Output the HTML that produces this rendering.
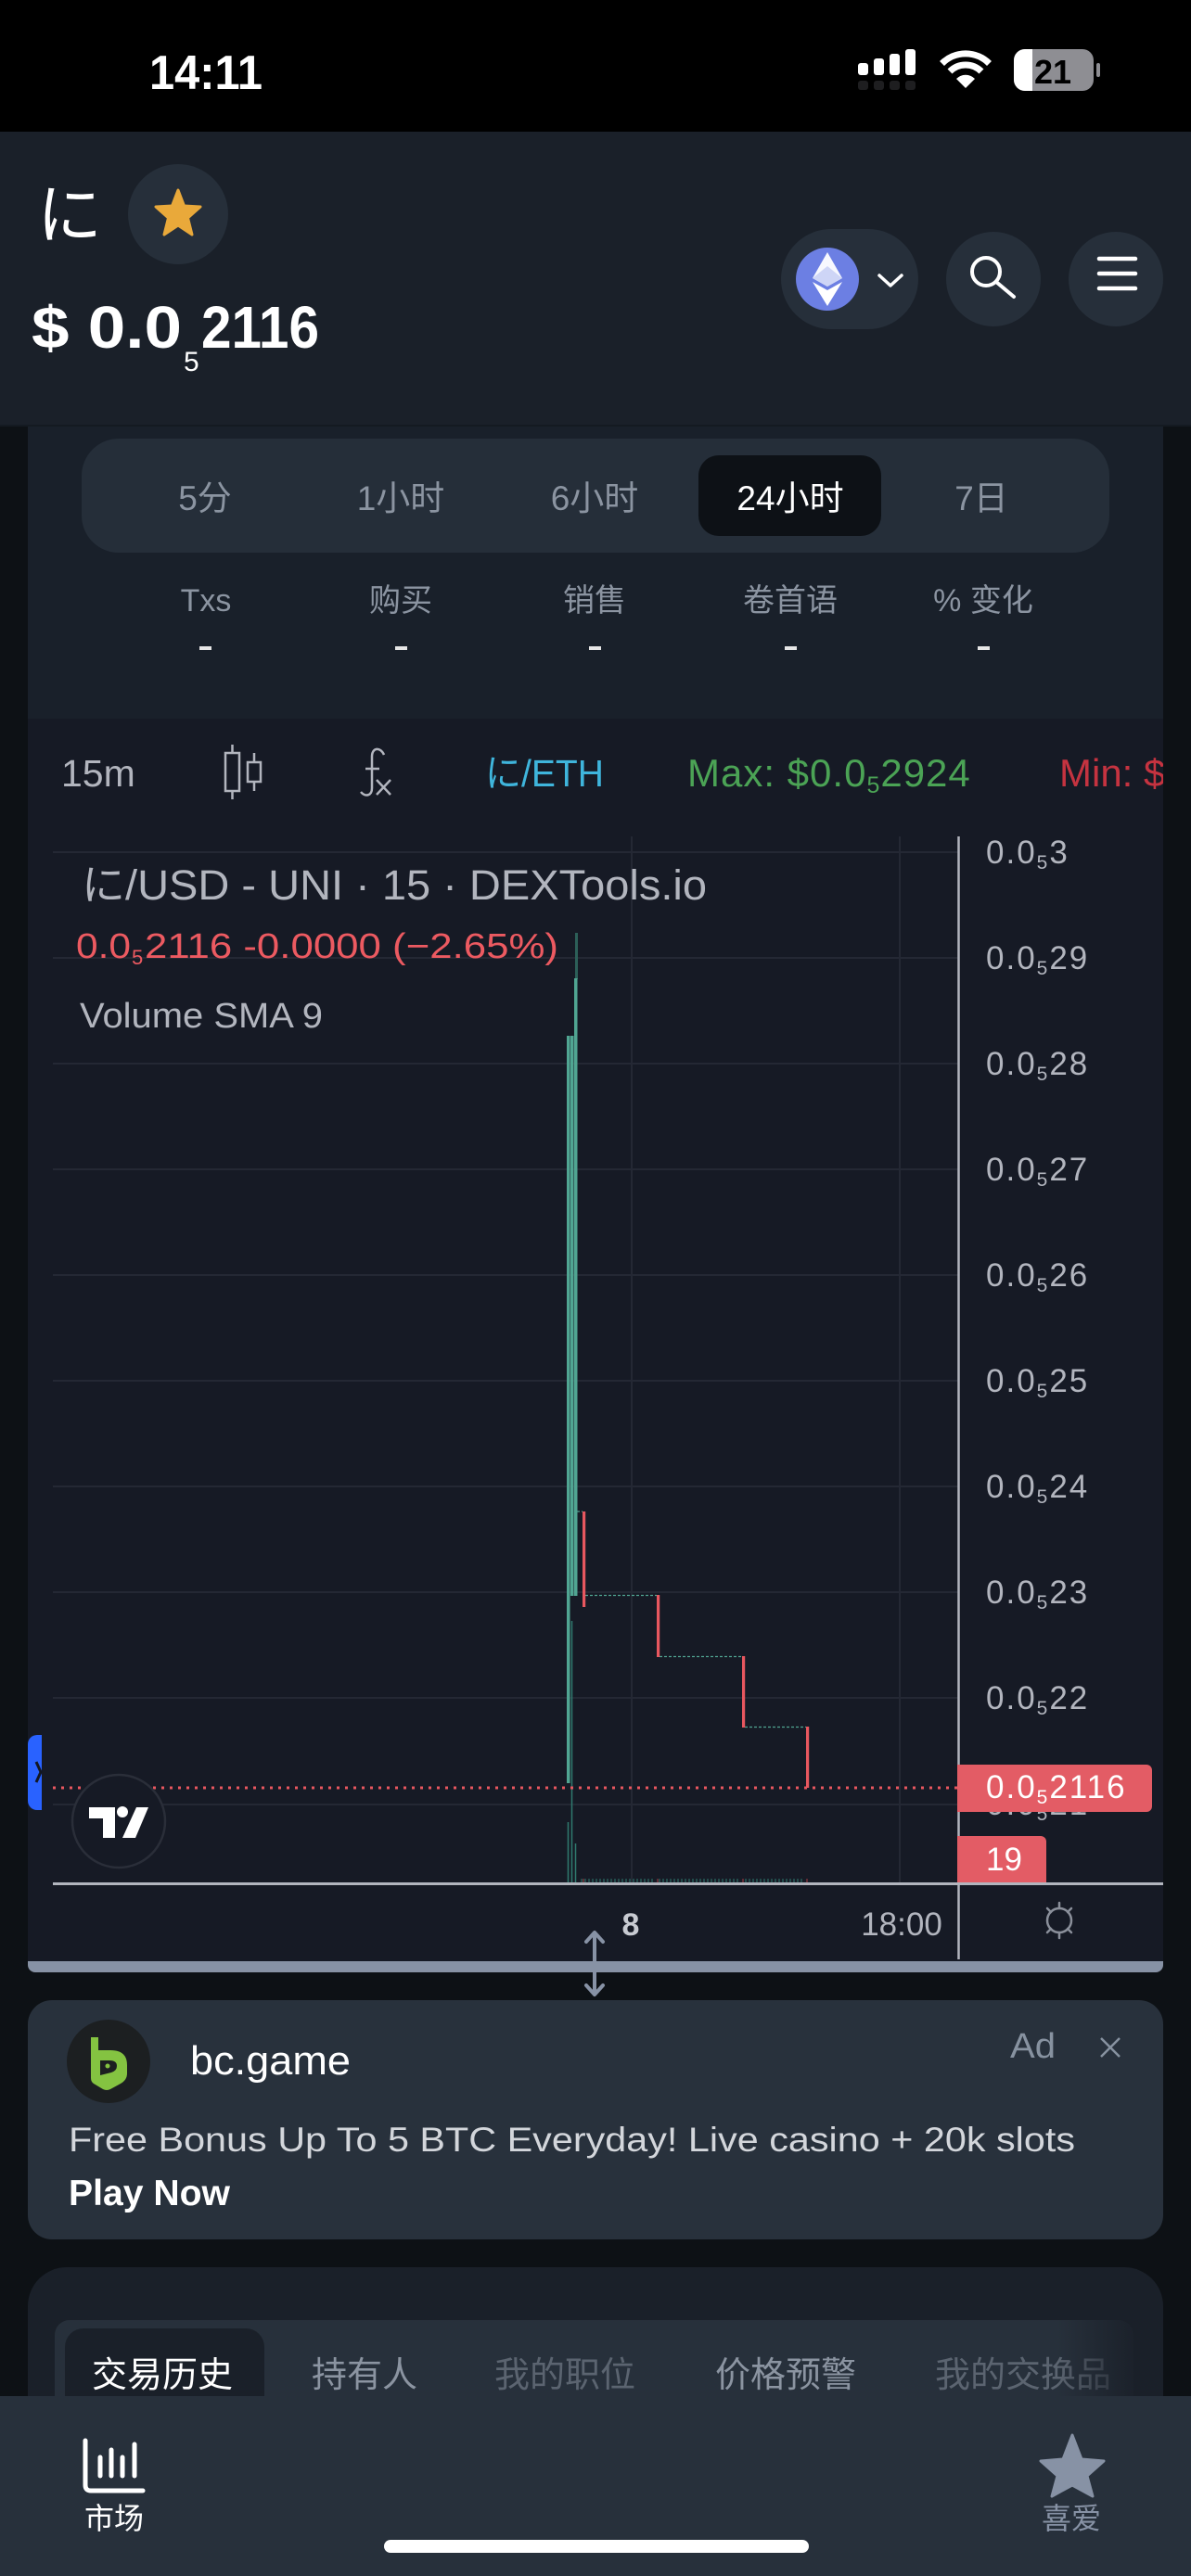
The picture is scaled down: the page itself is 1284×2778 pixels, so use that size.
<!DOCTYPE html>
<html><head><meta charset="utf-8">
<style>
html,body{margin:0;padding:0;background:#0d1115;width:1284px;height:2778px;overflow:hidden}
svg{display:block}
text{font-family:"Liberation Sans","Noto Sans CJK SC",sans-serif}
.jp{font-family:"Liberation Sans","Noto Sans CJK JP",sans-serif}
</style></head>
<body>
<svg width="1284" height="2778" viewBox="0 0 1284 2778" xmlns="http://www.w3.org/2000/svg">
<defs>
<clipPath id="panelclip"><rect x="30" y="0" width="1224" height="2778"/></clipPath>
<linearGradient id="fade" x1="0" x2="1" y1="0" y2="0">
<stop offset="0" stop-color="#1a2029" stop-opacity="0"/>
<stop offset="1" stop-color="#1a2029" stop-opacity="0.9"/>
</linearGradient>
</defs>

<!-- backgrounds -->
<rect x="0" y="0" width="1284" height="2778" fill="#0d1115"/>
<rect x="0" y="0" width="1284" height="142" fill="#000"/>
<rect x="0" y="142" width="1284" height="318" fill="#1a2029"/>
<rect x="30" y="460" width="1224" height="315" fill="#19202a"/>
<rect x="0" y="458" width="1284" height="2" fill="#141a21"/>

<!-- status bar -->
<text x="161" y="96" font-size="52" font-weight="bold" fill="#fff" textLength="122" lengthAdjust="spacingAndGlyphs">14:11</text>
<g fill="#fff">
<rect x="925" y="68" width="11" height="13" rx="3"/>
<rect x="942" y="63" width="11" height="18" rx="3"/>
<rect x="959" y="58" width="11" height="23" rx="3"/>
<rect x="976" y="53" width="11" height="28" rx="3"/>
</g>
<g fill="#1e1e20">
<rect x="925" y="87" width="11" height="10" rx="3"/>
<rect x="942" y="87" width="11" height="10" rx="3"/>
<rect x="959" y="87" width="11" height="10" rx="3"/>
<rect x="976" y="87" width="11" height="10" rx="3"/>
</g>
<g fill="none" stroke="#fff" stroke-width="7">
<path d="M1015.5,68.5 A36,36 0 0 1 1066.5,68.5"/>
<path d="M1024,77 A24,24 0 0 1 1058,77"/>
</g>
<path d="M1041,95 L1031,85 A14,14 0 0 1 1051,85 Z" fill="#fff"/>
<rect x="1093" y="53" width="86" height="45" rx="12" fill="#8e8e93"/>
<path d="M1105,53 h8 v45 h-8 a12,12 0 0 1 -12,-12 v-21 a12,12 0 0 1 12,-12z" fill="#fff"/>
<rect x="1182" y="68" width="4" height="15" rx="2" fill="#8e8e93"/>
<text x="1135" y="90" font-size="36" font-weight="bold" fill="#000" text-anchor="middle">21</text>

<!-- header -->
<text class="jp" x="40" y="256" font-size="70" fill="#fff">に</text>
<circle cx="192" cy="231" r="54" fill="#262f3a"/>
<path d="M192,205 L198.5,222 L216,223 L202.5,235 L207,253 L192,243 L177,253 L181.5,235 L168,223 L185.5,222 Z" fill="#e9a93a" stroke="#e9a93a" stroke-width="3" stroke-linejoin="round"/>
<text x="34" y="375" font-size="64" font-weight="bold" fill="#fff" textLength="162" lengthAdjust="spacingAndGlyphs">$ 0.0</text>
<text x="198" y="400" font-size="30" fill="#fff">5</text>
<text x="217" y="375" font-size="64" font-weight="bold" fill="#fff" textLength="127" lengthAdjust="spacingAndGlyphs">2116</text>

<rect x="842" y="247" width="148" height="108" rx="54" fill="#262f3a"/>
<circle cx="892" cy="301" r="34" fill="#6c7fe3"/>
<path d="M892,272 L876,300 L892,309 L908,300 Z" fill="#fff" opacity="0.95"/>
<path d="M892,287 L876,300 L892,309 L908,300 Z" fill="#c9d0f5" opacity="0.9"/>
<path d="M876,304 L892,330 L908,304 L892,313 Z" fill="#fff"/>
<polyline points="948,297 960,308 972,297" fill="none" stroke="#fff" stroke-width="3.5" stroke-linecap="round" stroke-linejoin="round"/>
<circle cx="1071" cy="301" r="51" fill="#262f3a"/>
<circle cx="1063" cy="293" r="15" fill="none" stroke="#fff" stroke-width="4"/>
<line x1="1074" y1="304" x2="1093" y2="320" stroke="#fff" stroke-width="4" stroke-linecap="round"/>
<circle cx="1203" cy="301" r="51" fill="#262f3a"/>
<g stroke="#fff" stroke-width="4.5" stroke-linecap="round">
<line x1="1185" y1="279" x2="1224" y2="279"/>
<line x1="1185" y1="295" x2="1224" y2="295"/>
<line x1="1185" y1="311" x2="1224" y2="311"/>
</g>

<!-- time tabs -->
<rect x="88" y="473" width="1108" height="123" rx="40" fill="#252e39"/>
<rect x="753" y="491" width="197" height="87" rx="22" fill="#0d1116"/>
<g font-size="37" text-anchor="middle" fill="#8b94a1">
<text x="221" y="550">5分</text>
<text x="432" y="550">1小时</text>
<text x="641" y="550">6小时</text>
<text x="852" y="550" fill="#fff">24小时</text>
<text x="1058" y="550">7日</text>
</g>
<g font-size="34" text-anchor="middle" fill="#8b94a1">
<text x="222" y="659">Txs</text>
<text x="432" y="659">购买</text>
<text x="641" y="659">销售</text>
<text x="852" y="659">卷首语</text>
<text x="1060" y="659">% 变化</text>
</g>
<g fill="#e6e6e6">
<rect x="215" y="697" width="13" height="4"/>
<rect x="426" y="697" width="13" height="4"/>
<rect x="635" y="697" width="13" height="4"/>
<rect x="846" y="697" width="13" height="4"/>
<rect x="1054" y="697" width="13" height="4"/>
</g>

<!-- chart panel -->
<rect x="30" y="775" width="1224" height="1342" fill="#161a25"/>
<g clip-path="url(#panelclip)">
<text x="66" y="848" font-size="41" fill="#b2b5be">15m</text>
<g fill="none" stroke="#b2b5be" stroke-width="2.5">
<rect x="243" y="812" width="15" height="41"/>
<line x1="250.5" y1="803" x2="250.5" y2="812"/>
<line x1="250.5" y1="853" x2="250.5" y2="862"/>
<rect x="267" y="822" width="14" height="21"/>
<line x1="274" y1="812" x2="274" y2="822"/>
<line x1="274" y1="843" x2="274" y2="853"/>
<path d="M414,814 C410,805 401,806 401,816 L401,850 C401,858 394,860 389,854"/>
<line x1="394" y1="829" x2="409" y2="829"/>
<line x1="406" y1="841" x2="421" y2="857"/>
<line x1="421" y1="841" x2="406" y2="857"/>
</g>
<text class="jp" x="523" y="848" font-size="41" fill="#3fb5dc" textLength="128" lengthAdjust="spacingAndGlyphs">に/ETH</text>
<text x="741" y="848" font-size="42" fill="#4ba355" letter-spacing="1">Max: $0.0<tspan font-size="25" dy="7">5</tspan><tspan dy="-7">2924</tspan></text>
<text x="1142" y="848" font-size="42" fill="#c53340">Min: $0.0</text>
</g>

<!-- grid -->
<g stroke="#242834" stroke-width="2">
<line x1="57" y1="919" x2="1033" y2="919"/>
<line x1="57" y1="1033" x2="1033" y2="1033"/>
<line x1="57" y1="1147" x2="1033" y2="1147"/>
<line x1="57" y1="1261" x2="1033" y2="1261"/>
<line x1="57" y1="1375" x2="1033" y2="1375"/>
<line x1="57" y1="1489" x2="1033" y2="1489"/>
<line x1="57" y1="1603" x2="1033" y2="1603"/>
<line x1="57" y1="1717" x2="1033" y2="1717"/>
<line x1="57" y1="1831" x2="1033" y2="1831"/>
<line x1="57" y1="1946" x2="1033" y2="1946"/>
<line x1="681" y1="902" x2="681" y2="2031"/>
<line x1="970" y1="902" x2="970" y2="2031"/>
</g>

<!-- legend -->
<text class="jp" x="88" y="970" font-size="45" fill="#b2b5be" textLength="674" lengthAdjust="spacingAndGlyphs">に/USD - UNI · 15 · DEXTools.io</text>
<text x="82" y="1033" font-size="38" fill="#ec5a61" textLength="59" lengthAdjust="spacingAndGlyphs">0.0</text>
<text x="142" y="1040" font-size="22" fill="#ec5a61">5</text>
<text x="156" y="1033" font-size="38" fill="#ec5a61" textLength="446" lengthAdjust="spacingAndGlyphs">2116 -0.0000 (−2.65%)</text>
<text x="86" y="1108" font-size="38" fill="#b2b5be" textLength="262" lengthAdjust="spacingAndGlyphs">Volume SMA 9</text>

<!-- volume -->
<g stroke="#2f7a6f" stroke-width="1.5">
<line x1="616.5" y1="1748" x2="616.5" y2="2030"/>
<line x1="612.5" y1="1965" x2="612.5" y2="2030"/>
<line x1="620.5" y1="1988" x2="620.5" y2="2030"/>
</g>
<g stroke="#2f7a6f" stroke-width="1">
<path d="M627,2026v4M631,2026v4M635,2026v4M639,2026v4M643,2026v4M647,2026v4M651,2026v4M655,2026v4M659,2026v4M663,2026v4M667,2026v4M671,2026v4M675,2026v4M679,2026v4M683,2026v4M687,2026v4M691,2026v4M695,2026v4M699,2026v4M703,2026v4M711,2026v4M715,2026v4M719,2026v4M723,2026v4M727,2026v4M731,2026v4M735,2026v4M739,2026v4M743,2026v4M747,2026v4M751,2026v4M755,2026v4M759,2026v4M763,2026v4M767,2026v4M771,2026v4M775,2026v4M779,2026v4M783,2026v4M787,2026v4M791,2026v4M795,2026v4M804,2026v4M808,2026v4M812,2026v4M816,2026v4M820,2026v4M824,2026v4M828,2026v4M832,2026v4M836,2026v4M840,2026v4M844,2026v4M848,2026v4M852,2026v4M856,2026v4M860,2026v4M864,2026v4"/>
</g>
<g stroke="#a53c44" stroke-width="1"><path d="M629,2026v4M709,2026v4M801,2026v4M870,2026v4"/></g>

<!-- candles -->
<rect x="620" y="1006" width="3" height="50" fill="#2c5f58"/>
<g fill="#50a592">
<rect x="611" y="1117" width="3.5" height="806"/>
<rect x="615" y="1117" width="3.5" height="604"/>
<rect x="619" y="1055" width="3.5" height="666"/>
</g>
<g stroke="#50a592" stroke-width="1.2" stroke-dasharray="3 2">
<line x1="622" y1="1630" x2="628" y2="1630"/>
<line x1="631" y1="1720.5" x2="708" y2="1720.5"/>
<line x1="711" y1="1786.5" x2="800" y2="1786.5"/>
<line x1="803" y1="1862.5" x2="869" y2="1862.5"/>
</g>
<g fill="#e8575f">
<rect x="628" y="1630" width="3.2" height="103"/>
<rect x="708" y="1720" width="3.2" height="67"/>
<rect x="800" y="1786" width="3.2" height="77"/>
<rect x="869" y="1862" width="3.2" height="66"/>
</g>

<!-- price line -->
<line x1="57" y1="1928" x2="1032" y2="1928" stroke="#e8575f" stroke-width="3" stroke-dasharray="3 6"/>

<!-- axes -->
<line x1="57" y1="2031.5" x2="1254" y2="2031.5" stroke="#b2b5be" stroke-width="3"/>
<line x1="1033.5" y1="902" x2="1033.5" y2="2113" stroke="#b2b5be" stroke-width="2.5"/>

<!-- price labels -->
<g font-size="35" fill="#b2b5be" letter-spacing="2">
<text x="1063" y="931">0.0<tspan font-size="21" dy="6">5</tspan><tspan dy="-6">3</tspan></text>
<text x="1063" y="1045">0.0<tspan font-size="21" dy="6">5</tspan><tspan dy="-6">29</tspan></text>
<text x="1063" y="1159">0.0<tspan font-size="21" dy="6">5</tspan><tspan dy="-6">28</tspan></text>
<text x="1063" y="1273">0.0<tspan font-size="21" dy="6">5</tspan><tspan dy="-6">27</tspan></text>
<text x="1063" y="1387">0.0<tspan font-size="21" dy="6">5</tspan><tspan dy="-6">26</tspan></text>
<text x="1063" y="1501">0.0<tspan font-size="21" dy="6">5</tspan><tspan dy="-6">25</tspan></text>
<text x="1063" y="1615">0.0<tspan font-size="21" dy="6">5</tspan><tspan dy="-6">24</tspan></text>
<text x="1063" y="1729">0.0<tspan font-size="21" dy="6">5</tspan><tspan dy="-6">23</tspan></text>
<text x="1063" y="1843">0.0<tspan font-size="21" dy="6">5</tspan><tspan dy="-6">22</tspan></text>
<text x="1063" y="1957">0.0<tspan font-size="21" dy="6">5</tspan><tspan dy="-6">21</tspan></text>
</g>
<path d="M1032,1903 h204 a6,6 0 0 1 6,6 v39 a6,6 0 0 1 -6,6 h-204z" fill="#e35c65"/>
<text x="1063" y="1939" font-size="35" fill="#fff" letter-spacing="2">0.0<tspan font-size="21" dy="6">5</tspan><tspan dy="-6">2116</tspan></text>
<path d="M1032,1980 h90 a6,6 0 0 1 6,6 v44 h-96z" fill="#e35c65"/>
<text x="1063" y="2017" font-size="35" fill="#fff">19</text>

<!-- time axis -->
<text x="680" y="2087" font-size="34" font-weight="bold" fill="#c8cbd2" text-anchor="middle">8</text>
<text x="972" y="2087" font-size="35" fill="#b2b5be" text-anchor="middle">18:00</text>
<g stroke="#8a8f9a" stroke-width="2.5" fill="none" stroke-linecap="round">
<circle cx="1142" cy="2071" r="13"/>
<line x1="1142" y1="2052" x2="1142" y2="2058"/>
<line x1="1142" y1="2084" x2="1142" y2="2090"/>
<line x1="1129" y1="2058" x2="1133" y2="2062"/>
<line x1="1155" y1="2058" x2="1151" y2="2062"/>
<line x1="1129" y1="2084" x2="1133" y2="2080"/>
<line x1="1155" y1="2084" x2="1151" y2="2080"/>
</g>

<!-- blue tab and TV logo -->
<path d="M45,1871 v81 h-5 a10,10 0 0 1 -10,-10 v-61 a10,10 0 0 1 10,-10z" fill="#2962ff"/>
<polyline points="39,1900 44,1911 39,1922" fill="none" stroke="#131722" stroke-width="3"/>
<circle cx="128" cy="1964" r="50" fill="#161a25" stroke="#2a2e39" stroke-width="2.5"/>
<g fill="#fff">
<path d="M96,1949 h28 v33 h-13 v-21 h-15z"/>
<circle cx="132" cy="1954" r="6"/>
<path d="M147,1949 h13 l-14,33 h-14z"/>
</g>

<!-- bottom bar of chart -->
<path d="M30,2115 h1224 v4 a8,8 0 0 1 -8,8 h-1208 a8,8 0 0 1 -8,-8z" fill="#8792a5"/>
<g stroke="#8792a5" stroke-width="4" fill="none" stroke-linecap="round" stroke-linejoin="round">
<line x1="641" y1="2085" x2="641" y2="2150"/>
<polyline points="632,2094 641,2084 650,2094"/>
<polyline points="632,2141 641,2151 650,2141"/>
</g>

<!-- ad card -->
<rect x="30" y="2157" width="1224" height="258" rx="26" fill="#28313c"/>
<circle cx="117" cy="2223" r="45" fill="#1c1f21"/>
<path d="M98,2197 h8 v14 h13 q18,0 18,16 v9 q0,7 -7,11 l-11,6 q-4,2 -8,0 l-10,-6 q-3,-2 -3,-6z" fill="#84c341"/>
<path d="M108,2222 h10 q8,0 8,6 q0,5 -6,7 l-12,3z" fill="#1c1f21"/>
<circle cx="116" cy="2228" r="2.5" fill="#84c341"/>
<text x="205" y="2237" font-size="44" fill="#fff" textLength="173" lengthAdjust="spacingAndGlyphs">bc.game</text>
<text x="1089" y="2219" font-size="38" fill="#8792a0" textLength="49" lengthAdjust="spacingAndGlyphs">Ad</text>
<g stroke="#8792a0" stroke-width="2.5"><line x1="1187" y1="2198" x2="1207" y2="2218"/><line x1="1207" y1="2198" x2="1187" y2="2218"/></g>
<text x="74" y="2320" font-size="37" fill="#d3d6db" textLength="1085" lengthAdjust="spacingAndGlyphs">Free Bonus Up To 5 BTC Everyday! Live casino + 20k slots</text>
<text x="74" y="2378" font-size="39" font-weight="bold" fill="#fff" textLength="174" lengthAdjust="spacingAndGlyphs">Play Now</text>

<!-- bottom card -->
<rect x="30" y="2445" width="1224" height="400" rx="42" fill="#1a2029"/>
<rect x="59" y="2502" width="1163" height="150" rx="16" fill="#27303b"/>
<rect x="70" y="2511" width="215" height="140" rx="20" fill="#1a2029"/>
<g font-size="38" text-anchor="middle">
<text x="175" y="2574" fill="#fff">交易历史</text>
<text x="393" y="2574" fill="#8b94a1">持有人</text>
<text x="609" y="2574" fill="#5b6470">我的职位</text>
<text x="847" y="2574" fill="#8b94a1">价格预警</text>
<text x="1103" y="2574" fill="#5b6470">我的交换品</text>
</g>
<rect x="1140" y="2502" width="82" height="90" fill="url(#fade)"/>

<!-- nav -->
<rect x="0" y="2584" width="1284" height="194" fill="#27303b"/>
<g stroke="#fff" stroke-width="5" stroke-linecap="round" fill="none">
<path d="M92,2632 v48 q0,6 6,6 h56"/>
<line x1="108" y1="2650" x2="108" y2="2670"/>
<line x1="120" y1="2642" x2="120" y2="2670"/>
<line x1="132" y1="2650" x2="132" y2="2670"/>
<line x1="145" y1="2636" x2="145" y2="2670"/>
</g>
<text x="123" y="2727" font-size="32" fill="#fff" text-anchor="middle">市场</text>
<path d="M1156,2626 L1166,2652 L1190,2654 L1172,2670 L1178,2692 L1156,2680 L1134,2692 L1140,2670 L1122,2654 L1146,2652 Z" fill="#8792a5" stroke="#8792a5" stroke-width="3" stroke-linejoin="round"/>
<text x="1155" y="2727" font-size="32" fill="#8792a5" text-anchor="middle">喜爱</text>
<rect x="414" y="2739" width="458" height="14" rx="7" fill="#fff"/>
</svg>
</body></html>
